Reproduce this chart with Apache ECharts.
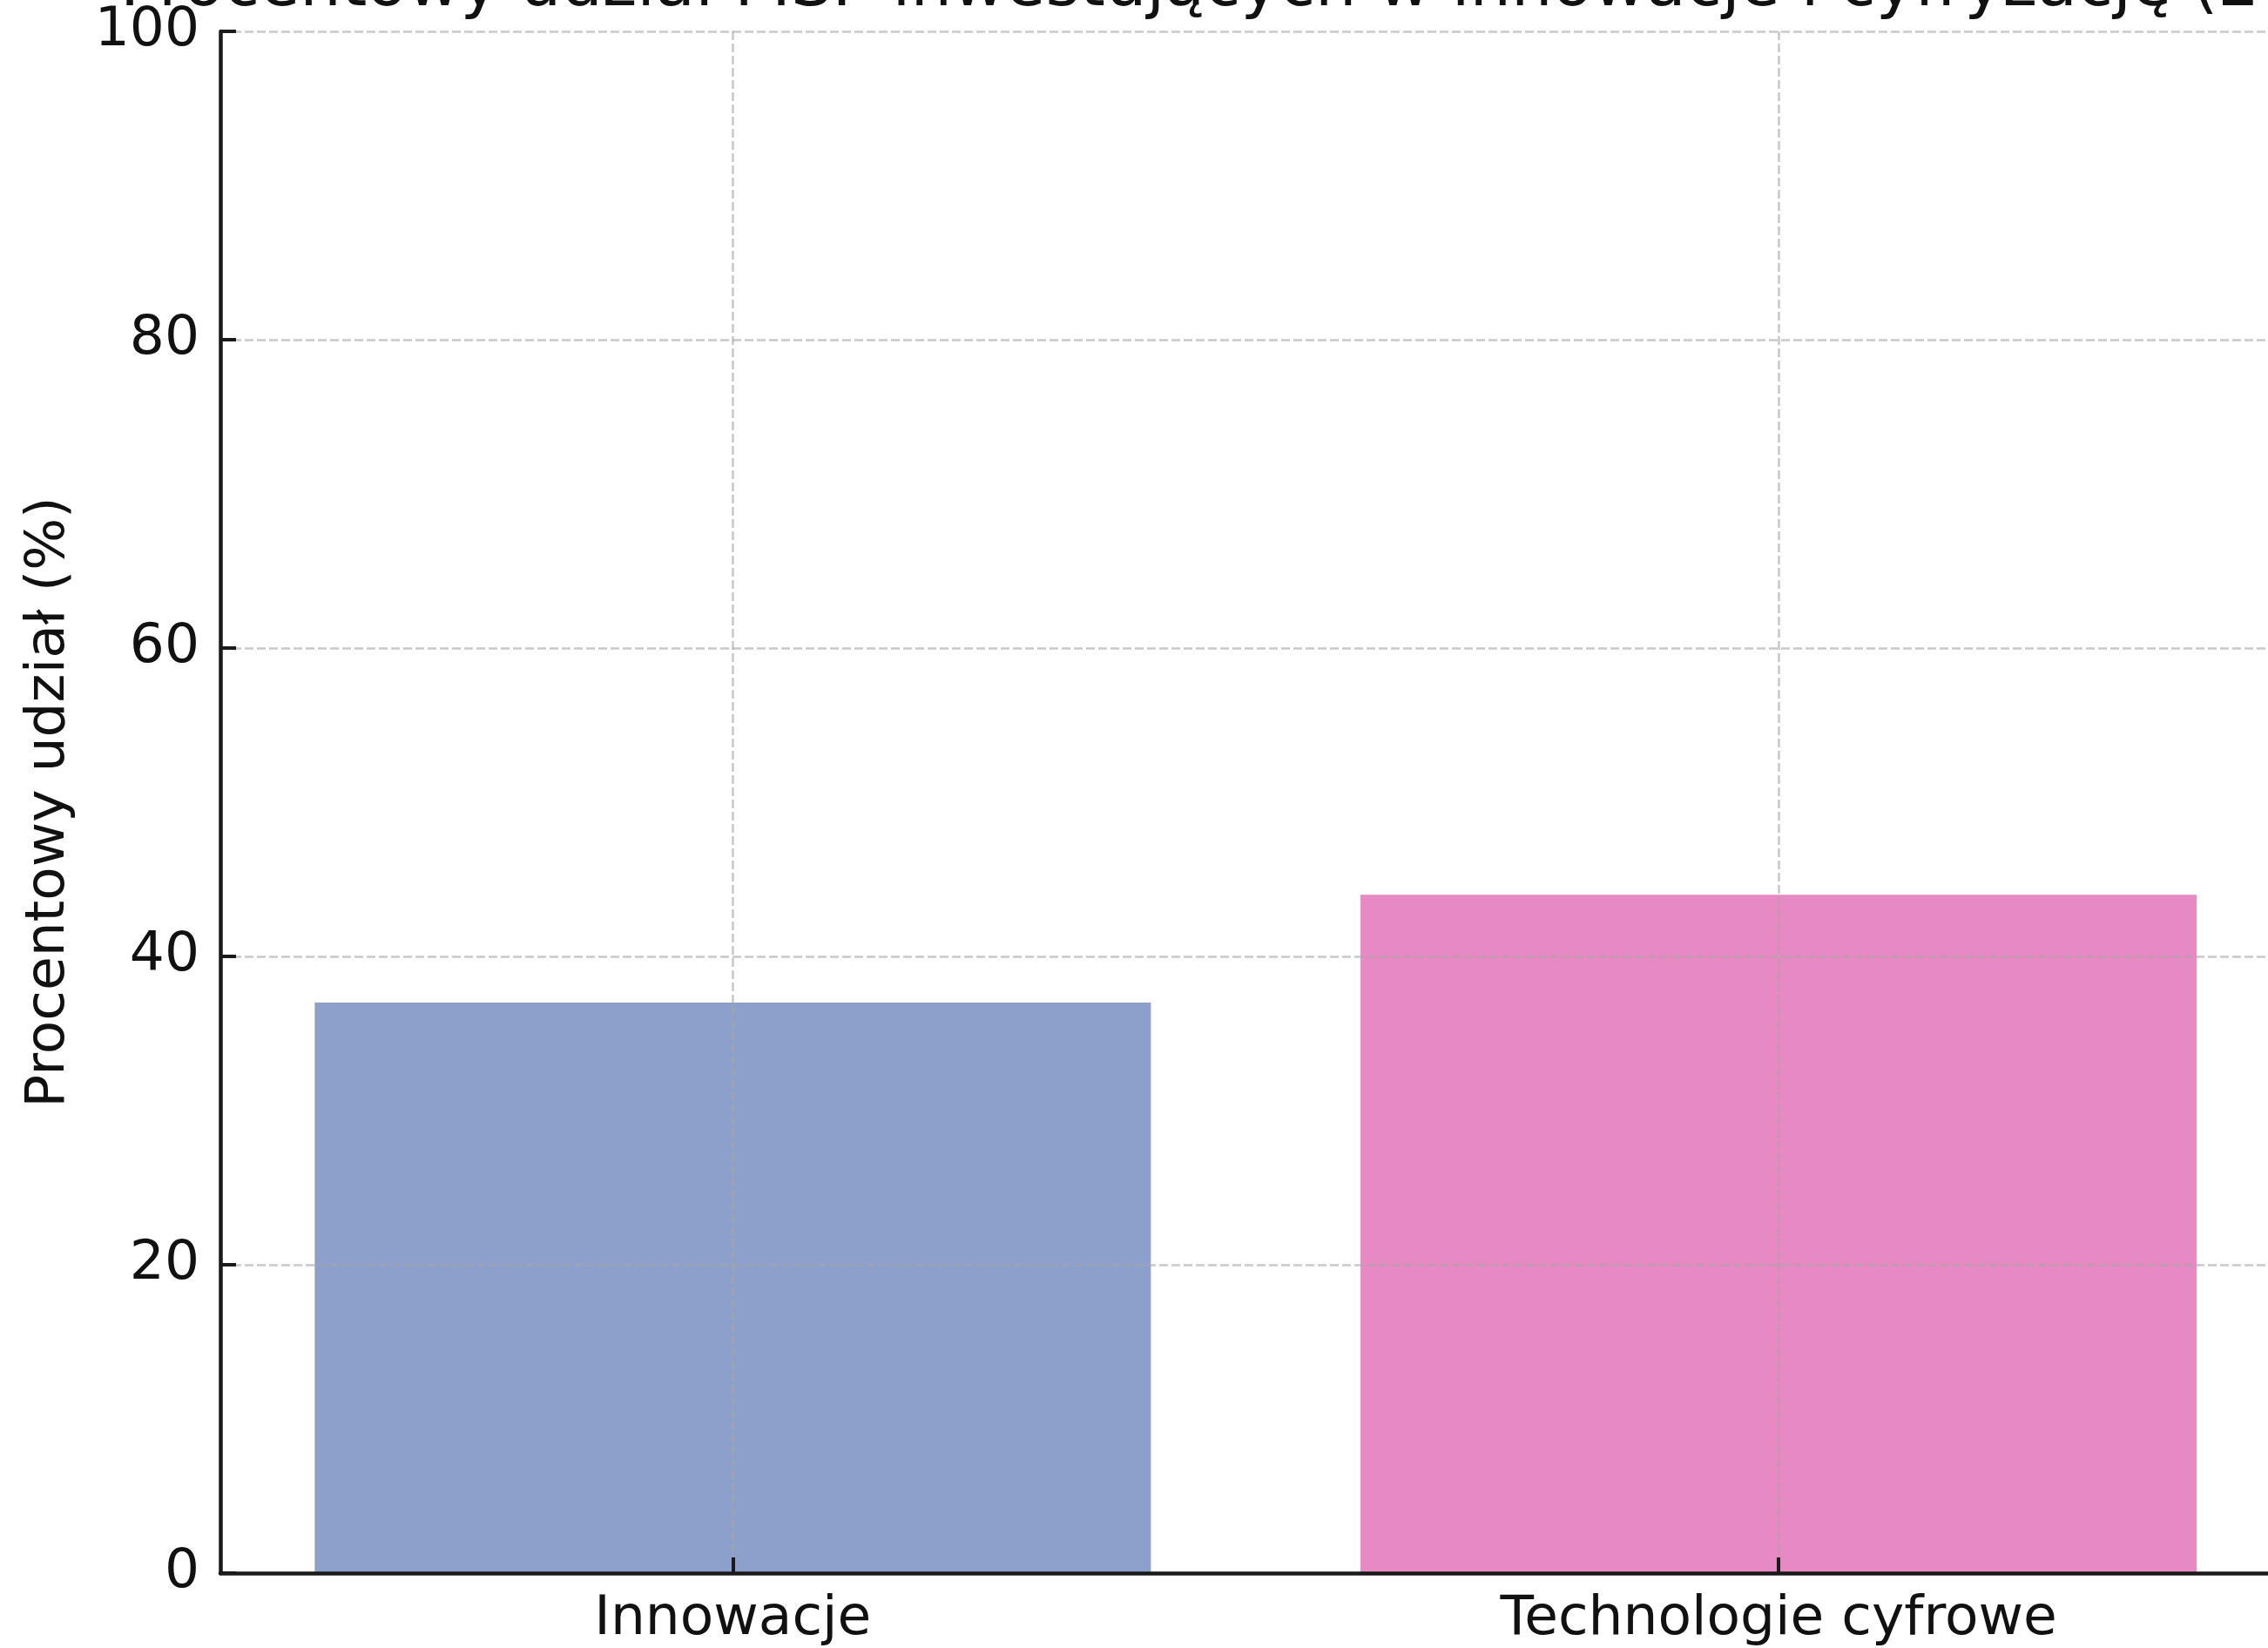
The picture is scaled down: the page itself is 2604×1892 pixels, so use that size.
<!DOCTYPE html>
<html>
<head>
<meta charset="utf-8">
<script src="https://cdn.jsdelivr.net/npm/echarts@6/dist/echarts.min.js"></script>
<style>
html,body{margin:0;padding:0;background:#fff;}
#chart{width:2604px;height:1892px;}
</style>
</head>
<body>
<div id="chart"></div>
<script>
const titleText = 'Procentowy udział MŚP inwestujących w innowacje i cyfryzację (2023)';
const yAxisName = 'Procentowy udział (%)';
const categories = ['Innowacje', 'Technologie cyfrowe'];
const values = [37, 44];
const barColors = ['#8DA0CB', '#E78AC3'];
const yTicks = [0, 20, 40, 60, 80, 100];

const FONT = 'DejaVu Sans';
const TXT = '#111111';
const AX = '#1a1a1a';
const GRID = 'rgba(165,165,165,0.6)';

const chart = echarts.init(document.getElementById('chart'), null, {renderer: 'canvas'});
const catIdx = categories.map((c, i) => i);

chart.setOption({
  backgroundColor: '#ffffff',
  animation: false,
  title: {
    text: titleText,
    left: 133,
    top: -56,
    textStyle: {fontFamily: FONT, fontSize: 75, fontWeight: 'normal', color: TXT}
  },
  grid: {left: 253, right: 0, top: 36, bottom: 86, containLabel: false},
  xAxis: {
    type: 'value',
    min: -0.49,
    max: 1.468,
    axisLine: {show: true, onZero: false, lineStyle: {color: AX, width: 4.5}},
    axisTick: {show: true, inside: true, length: 18, customValues: catIdx, lineStyle: {color: AX, width: 4}},
    axisLabel: {
      show: true, customValues: catIdx, margin: 22,
      fontFamily: FONT, fontSize: 63, color: TXT,
      formatter: v => categories[Math.round(v)] || ''
    },
    splitLine: {show: true, lineStyle: {color: GRID, width: 2.6, type: [10, 4]}}
  },
  yAxis: {
    type: 'value',
    min: yTicks[0],
    max: yTicks[yTicks.length - 1],
    interval: yTicks[1] - yTicks[0],
    name: yAxisName,
    nameLocation: 'middle',
    nameRotate: 90,
    nameGap: 165,
    nameTextStyle: {fontFamily: FONT, fontSize: 63, color: TXT},
    axisLine: {show: true, onZero: false, lineStyle: {color: AX, width: 4.5}},
    axisTick: {show: true, inside: true, length: 18, lineStyle: {color: AX, width: 4}},
    axisLabel: {margin: 24, fontFamily: FONT, fontSize: 63, color: TXT},
    splitLine: {show: true, lineStyle: {color: GRID, width: 2.6, type: [10, 4]}}
  },
  series: [{
    type: 'bar',
    z: -1,
    barWidth: 960,
    data: values.map((v, i) => ({value: [catIdx[i], v], itemStyle: {color: barColors[i]}}))
  }]
});
</script>
</body>
</html>
